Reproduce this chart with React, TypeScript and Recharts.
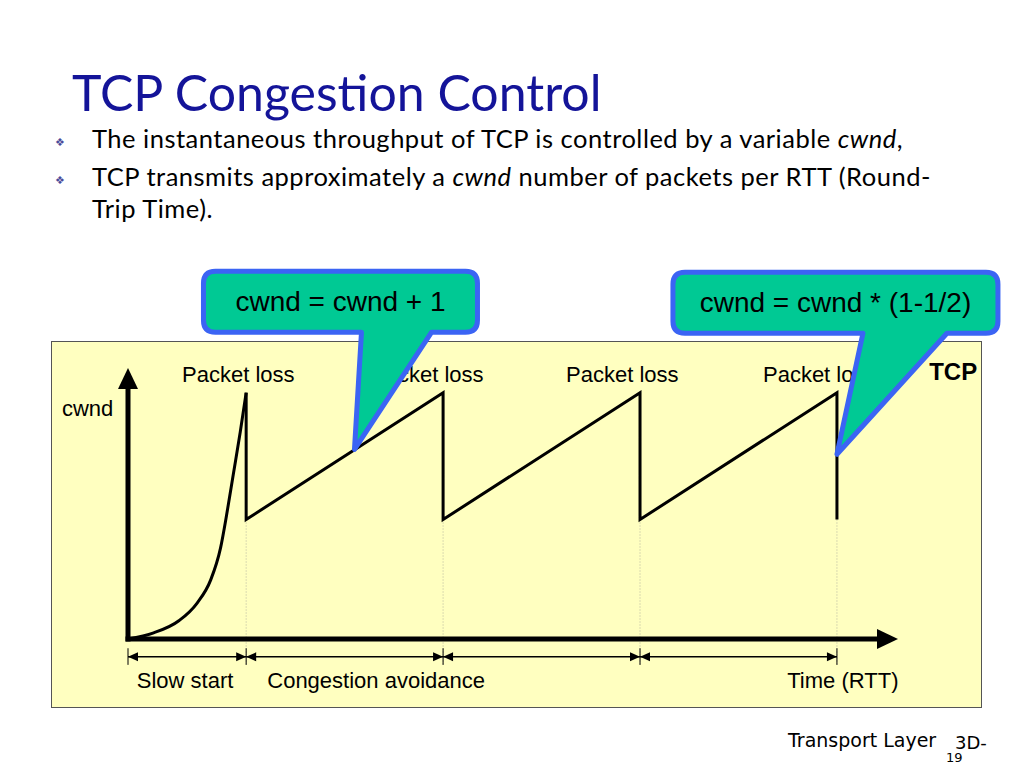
import React from 'react';
import { ComposedChart, Line, XAxis, YAxis, ReferenceLine, ReferenceDot } from 'recharts';

// time in RTT, cwnd in packets
const slowStartTime = [0, 1.3, 2.6, 3.5, 4.2, 4.7, 5.0, 5.35, 5.7, 6.0];
const slowStartCwnd = [0, 0.5, 1.5, 2.9, 4.8, 7.4, 10.0, 13.4, 16.8, 20];
const sawTime = [6, 6, 16, 16, 26, 26, 36, 36];
const sawCwnd = [20, 9.7, 20, 9.7, 20, 9.7, 20, 9.7];
const lossTimes = [6, 16, 26, 36];
const lossLabelTimes = [5.6, 15.2, 25.1, 35.1];
const phaseBounds = [0, 6, 16, 26, 36];
const phaseLabels = ['Slow start', 'Congestion avoidance', 'Time (RTT)'];
const phaseLabelTimes = [2.9, 12.6, 36.3];

const slowStart = slowStartTime.map((t, i) => ({ t, cwnd: slowStartCwnd[i] }));
const sawtooth = sawTime.map((t, i) => ({ t, cwnd: sawCwnd[i] }));

const W = 1024;
const H = 768;
const margin = { top: 368, right: 126, bottom: 129, left: 128 };
const xDomain = [0, 39.1];
const yDomain = [0, 22];
const FONT = '"Liberation Sans", Arial, sans-serif';

// thick axis with a single arrow head at the far end
const AxisArrow = (p: any) => {
  const { x1, y1, x2, y2 } = p;
  const len = Math.hypot(x2 - x1, y2 - y1);
  const ux = (x2 - x1) / len;
  const uy = (y2 - y1) / len;
  const head = 21;
  const half = 10;
  const bx = x2 - ux * head;
  const by = y2 - uy * head;
  return (
    <g>
      <line x1={x1 - ux * 2.5} y1={y1 - uy * 2.5} x2={bx} y2={by} stroke="#000" strokeWidth={5} />
      <polygon
        points={`${x2},${y2} ${bx - uy * half},${by + ux * half} ${bx + uy * half},${by - ux * half}`}
        fill="#000"
      />
    </g>
  );
};

// thin dimension arrow with heads at both ends
const DimArrow = (p: any) => {
  const { x1, y1, x2, y2 } = p;
  const head = 10;
  const half = 4.5;
  return (
    <g>
      <line x1={x1} y1={y1} x2={x2} y2={y2} stroke="#000" strokeWidth={1.5} />
      <polygon points={`${x1},${y1} ${x1 + head},${y1 - half} ${x1 + head},${y1 + half}`} fill="#000" />
      <polygon points={`${x2},${y2} ${x2 - head},${y2 - half} ${x2 - head},${y2 + half}`} fill="#000" />
    </g>
  );
};

const textShape = (txt: string, opts: any = {}) => (p: any) => (
  <text
    x={p.cx}
    y={p.cy}
    textAnchor={opts.anchor || 'middle'}
    fontFamily={FONT}
    fontSize={opts.size || 22}
    fontWeight={opts.weight || 'normal'}
    fill="#000"
  >
    {txt}
  </text>
);

// speech bubble, tip sits on the data point
const calloutShape = (txt: string, g: { l: number; r: number; t: number; b: number; p1: number; p2: number }) => (p: any) => {
  const x = p.cx;
  const y = p.cy;
  const rad = 12;
  const L = x + g.l, R = x + g.r, T = y + g.t, B = y + g.b;
  const d = [
    `M${L + rad},${T}`,
    `L${R - rad},${T}`,
    `Q${R},${T} ${R},${T + rad}`,
    `L${R},${B - rad}`,
    `Q${R},${B} ${R - rad},${B}`,
    `L${x + g.p2},${B}`,
    `L${x},${y}`,
    `L${x + g.p1},${B}`,
    `L${L + rad},${B}`,
    `Q${L},${B} ${L},${B - rad}`,
    `L${L},${T + rad}`,
    `Q${L},${T} ${L + rad},${T}`,
    'Z',
  ].join(' ');
  return (
    <g>
      <path d={d} fill="#00C994" stroke="#3B64F4" strokeWidth={5} strokeLinejoin="round" />
      <text x={(L + R) / 2} y={(T + B) / 2 + 9} textAnchor="middle" fontFamily={FONT} fontSize={28} fill="#000">
        {txt}
      </text>
    </g>
  );
};

const Frame: React.FC<{ children: React.ReactNode }> = ({ children }) => (
  <ComposedChart width={W} height={H} margin={margin}>
    <XAxis type="number" dataKey="t" domain={xDomain} hide allowDataOverflow />
    <YAxis type="number" dataKey="cwnd" domain={yDomain} hide allowDataOverflow />
    {children}
  </ComposedChart>
);

export default function App() {
  return (
    <div style={{ position: 'absolute', left: 0, top: 0, width: W, height: H, background: '#fff', overflow: 'hidden' }}>
      {/* slide text */}
      <svg width={W} height={H} style={{ position: 'absolute', left: 0, top: 0 }}>
        <text x={72} y={111} fontFamily="Lato, sans-serif" fontSize={50} fill="#141499">
          TCP Congestion Control
        </text>
        <g fontFamily="Lato, sans-serif" fontSize={25.5} letterSpacing={0.5} fill="#000">
          <text x={55} y={146} fontSize={11} letterSpacing={0} fontFamily='"DejaVu Sans"' fill="#4a4a9a">❖</text>
          <text x={92} y={148}>
            The instantaneous throughput of TCP is controlled by a variable <tspan fontStyle="italic">cwnd</tspan>,
          </text>
          <text x={55} y={184} fontSize={11} letterSpacing={0} fontFamily='"DejaVu Sans"' fill="#4a4a9a">❖</text>
          <text x={92} y={186}>
            TCP transmits approximately a <tspan fontStyle="italic">cwnd</tspan> number of packets per RTT (Round-
          </text>
          <text x={92} y={218}>Trip Time).</text>
        </g>
        <rect x={51.5} y={341.5} width={930} height={366} fill="#FFFFC0" stroke="#555" strokeWidth={1} />
        <text x={788} y={747} fontFamily='"DejaVu Sans", sans-serif' fontSize={19} fill="#000">
          Transport Layer
        </text>
        <text x={955} y={749} fontFamily='"DejaVu Sans", sans-serif' fontSize={18} fill="#000">3D-</text>
        <text x={946} y={762} fontFamily='"DejaVu Sans", sans-serif' fontSize={13} fill="#000">19</text>
      </svg>

      {/* the cwnd chart */}
      <div style={{ position: 'absolute', left: 0, top: 0 }}>
        <Frame>
          {lossTimes.map((t) => (
            <ReferenceLine
              key={`dot-${t}`}
              segment={[{ x: t, y: sawCwnd[1] }, { x: t, y: -2.1 }]}
              stroke="#b5b5a0"
              strokeWidth={1}
              strokeDasharray="1 2"
              ifOverflow="visible"
            />
          ))}
          {phaseBounds.map((t) => (
            <ReferenceLine
              key={`tick-${t}`}
              segment={[{ x: t, y: -0.75 }, { x: t, y: -2.1 }]}
              stroke="#000"
              strokeWidth={1}
              ifOverflow="visible"
            />
          ))}
          {phaseBounds.slice(1).map((t, i) => (
            <ReferenceLine
              key={`dim-${t}`}
              segment={[{ x: phaseBounds[i], y: -1.45 }, { x: t, y: -1.45 }]}
              shape={DimArrow}
              ifOverflow="visible"
            />
          ))}
          <ReferenceLine segment={[{ x: 0, y: 0 }, { x: xDomain[1], y: 0 }]} shape={AxisArrow} ifOverflow="visible" />
          <ReferenceLine segment={[{ x: 0, y: 0 }, { x: 0, y: yDomain[1] }]} shape={AxisArrow} ifOverflow="visible" />

          <Line
            data={slowStart}
            dataKey="cwnd"
            type="monotone"
            stroke="#000"
            strokeWidth={3}
            dot={false}
            isAnimationActive={false}
          />
          <Line
            data={sawtooth}
            dataKey="cwnd"
            type="linear"
            stroke="#000"
            strokeWidth={3}
            dot={false}
            isAnimationActive={false}
          />

          {lossLabelTimes.map((t) => (
            <ReferenceDot key={`pl-${t}`} x={t} y={20.9} shape={textShape('Packet loss')} ifOverflow="visible" />
          ))}
          <ReferenceDot x={-2.05} y={18.1} shape={textShape('cwnd')} ifOverflow="visible" />
          <ReferenceDot x={41.9} y={21.0} shape={textShape('TCP', { weight: 'bold', size: 24 })} ifOverflow="visible" />
          {phaseLabels.map((s, i) => (
            <ReferenceDot key={s} x={phaseLabelTimes[i]} y={-4.0} shape={textShape(s)} ifOverflow="visible" />
          ))}
        </Frame>
      </div>

      {/* speech bubbles on top */}
      <div style={{ position: 'absolute', left: 0, top: 0, pointerEvents: 'none' }}>
        <Frame>
          <ReferenceDot
            x={11.5}
            y={15.4}
            shape={calloutShape('cwnd = cwnd + 1', { l: -151, r: 123, t: -178, b: -117, p1: 7, p2: 77 })}
            ifOverflow="visible"
          />
          <ReferenceDot
            x={36}
            y={15.0}
            shape={calloutShape('cwnd = cwnd * (1-1/2)', { l: -164, r: 161, t: -182, b: -121, p1: 26, p2: 110 })}
            ifOverflow="visible"
          />
        </Frame>
      </div>
    </div>
  );
}
